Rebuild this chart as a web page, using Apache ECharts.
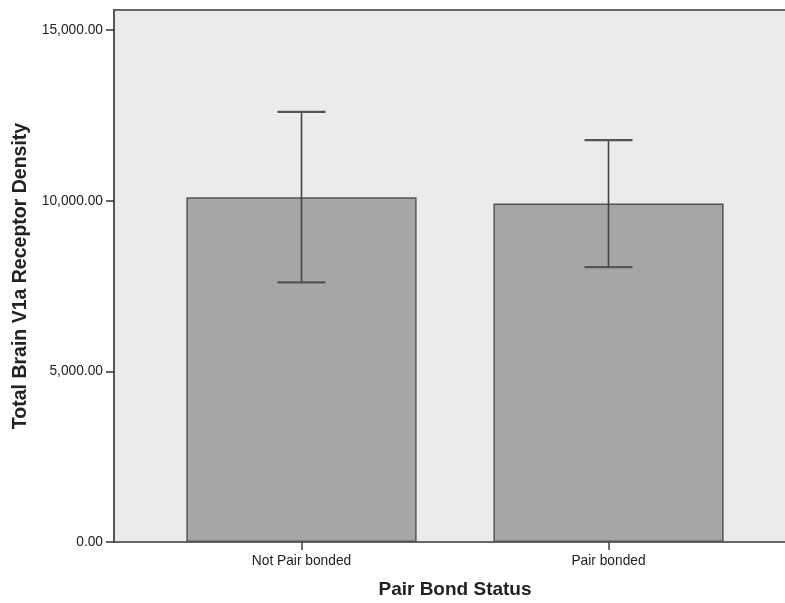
<!DOCTYPE html>
<html><head><meta charset="utf-8">
<script src="https://cdn.jsdelivr.net/npm/echarts@6/dist/echarts.min.js"></script>
<style>html,body{margin:0;padding:0;background:#fff}#c{width:785px;height:603px}</style>
</head><body><div id="c"></div>
<script>
const categories = ['Not Pair bonded', 'Pair bonded'];
const means = [10100, 9920];
const errLow = [7610, 8055];
const errHigh = [12605, 11775];
const yTicks = [0, 5000, 10000, 15000];
const yMax = 15590;

const font = "'Liberation Sans', Arial, sans-serif";
const chart = echarts.init(document.getElementById('c'));
const fmt = v => v.toLocaleString('en-US', {minimumFractionDigits: 2, maximumFractionDigits: 2});

chart.setOption({
  animation: false,
  grid: [
    {left: 114, top: 10, width: 684, height: 532, show: true, backgroundColor: '#ebebeb', borderColor: '#666', borderWidth: 2, outerBoundsMode: 'none', containLabel: false},
    {left: 148, top: 10, width: 614, height: 532, outerBoundsMode: 'none', containLabel: false}
  ],
  xAxis: [
    {gridIndex: 0, type: 'value', min: 0, max: 1, show: false},
    {gridIndex: 1, type: 'category', data: categories,
     axisLine: {show: false},
     axisTick: {show: true, alignWithLabel: true, length: 8, lineStyle: {color: '#444', width: 1.5}},
     axisLabel: {color: '#222', fontFamily: font, fontSize: 13.75, margin: 12},
     name: 'Pair Bond Status', nameLocation: 'middle', nameGap: 38,
     nameTextStyle: {color: '#222', fontFamily: font, fontSize: 19, fontWeight: 'bold'}}
  ],
  yAxis: [
    {gridIndex: 0, type: 'value', min: 0, max: yMax,
     axisLine: {show: true, lineStyle: {color: '#555', width: 2}},
     axisTick: {show: true, length: 8, customValues: yTicks, lineStyle: {color: '#333', width: 1.5}},
     axisLabel: {customValues: yTicks, formatter: fmt, color: '#222', fontFamily: font, fontSize: 13.75, margin: 11},
     splitLine: {show: false},
     name: 'Total Brain V1a Receptor Density', nameLocation: 'middle', nameGap: 81, nameRotate: 90,
     nameTextStyle: {color: '#222', fontFamily: font, fontSize: 19.5, fontWeight: 'bold'}},
    {gridIndex: 1, type: 'value', min: 0, max: yMax, show: false, splitLine: {show: false}}
  ],
  series: [
    {type: 'bar', xAxisIndex: 1, yAxisIndex: 1, data: means, barWidth: '75%',
     itemStyle: {color: '#a6a6a6', borderColor: '#555', borderWidth: 1.5}},
    {type: 'custom', xAxisIndex: 1, yAxisIndex: 1, z: 5,
     data: categories.map((c, i) => [i, errLow[i], errHigh[i]]),
     renderItem: function (params, api) {
       const lo = api.coord([api.value(0), api.value(1)]);
       const hi = api.coord([api.value(0), api.value(2)]);
       const hw = 24;
       const st = {stroke: '#444', lineWidth: 1.6};
       return {type: 'group', children: [
         {type: 'line', shape: {x1: hi[0], y1: hi[1], x2: lo[0], y2: lo[1]}, style: st},
         {type: 'line', shape: {x1: hi[0] - hw, y1: hi[1], x2: hi[0] + hw, y2: hi[1]}, style: {stroke: '#555', lineWidth: 2.2}},
         {type: 'line', shape: {x1: lo[0] - hw, y1: lo[1], x2: lo[0] + hw, y2: lo[1]}, style: {stroke: '#555', lineWidth: 2.2}}
       ]};
     }}
  ]
});
</script>
</body></html>
